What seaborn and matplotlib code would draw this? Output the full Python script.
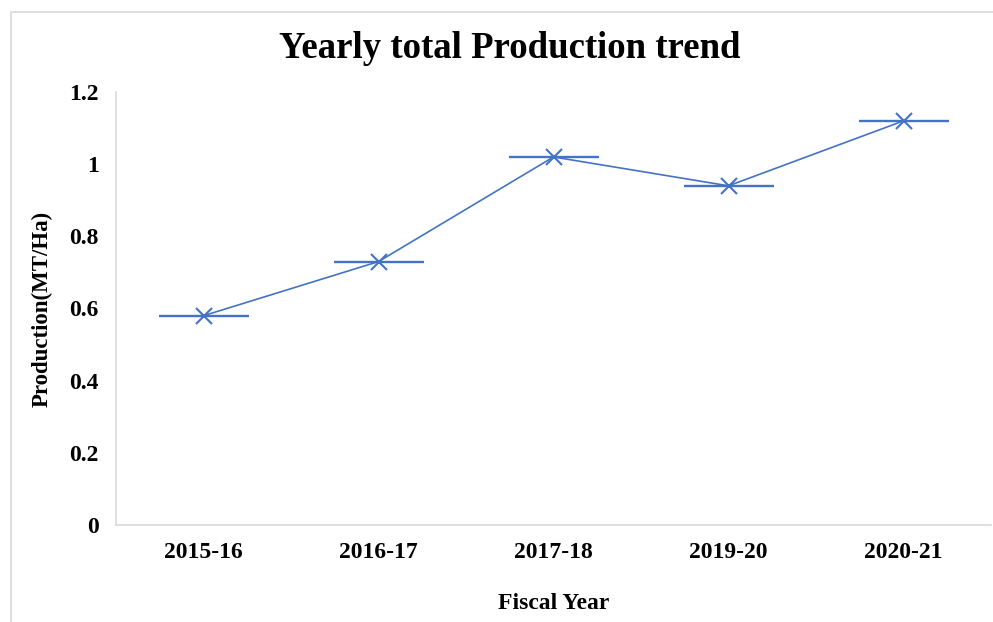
import matplotlib
matplotlib.use("Agg")
import matplotlib.pyplot as plt
import seaborn as sns
import pandas as pd
from matplotlib.patches import Rectangle

fiscal_years = ["2015-16", "2016-17", "2017-18", "2019-20", "2020-21"]
production = [0.58, 0.73, 1.02, 0.94, 1.12]
y_ticks = [0, 0.2, 0.4, 0.6, 0.8, 1.0, 1.2]
y_tick_labels = ["0", "0.2", "0.4", "0.6", "0.8", "1", "1.2"]

df = pd.DataFrame({"Fiscal Year": fiscal_years, "Production": production})

sns.set_theme(style="white")
plt.rcParams["font.family"] = ["Liberation Serif", "DejaVu Serif"]
plt.rcParams["font.weight"] = "bold"
plt.rcParams["text.color"] = "black"
plt.rcParams["axes.labelcolor"] = "black"
plt.rcParams["xtick.color"] = "black"
plt.rcParams["ytick.color"] = "black"

blue = "#4472C4"
grey = "#d9d9d9"

fig = plt.figure(figsize=(9.93, 6.22), dpi=100)
ax = fig.add_axes([116 / 993, 1 - 525 / 622, (991 - 116) / 993, (525 - 92) / 622])

# outer chart frame
fig.patches.append(Rectangle((11 / 993, -0.1), 1.2, 1 - 12 / 622 + 0.1,
                             transform=fig.transFigure, fill=False,
                             edgecolor=grey, linewidth=1.2, zorder=0))

sns.lineplot(data=df, x="Fiscal Year", y="Production", ax=ax, color=blue,
             linewidth=1.2, marker="x", markersize=11, markeredgewidth=1.5,
             markeredgecolor=blue, sort=False)
sns.scatterplot(data=df, x="Fiscal Year", y="Production", ax=ax, color=blue,
                marker="_", s=65 ** 2, linewidth=1.7, zorder=3)

ax.set_xlim(-0.5, len(fiscal_years) - 0.5)
ax.set_ylim(0, 1.2)
ax.set_yticks(y_ticks)
ax.set_yticklabels(y_tick_labels)
ax.tick_params(axis="y", length=0, pad=12.5, labelsize=17)
ax.tick_params(axis="x", length=0, pad=12, labelsize=17)
for lbl in ax.get_xticklabels() + ax.get_yticklabels():
    lbl.set_fontweight("bold")

for side in ["top", "right"]:
    ax.spines[side].set_visible(False)
for side in ["left", "bottom"]:
    ax.spines[side].set_color(grey)
    ax.spines[side].set_linewidth(1.2)

ax.set_xlabel("Fiscal Year", fontsize=17, fontweight="bold", labelpad=22)
ax.set_ylabel("Production(MT/Ha)", fontsize=16.5, fontweight="bold", labelpad=12)
fig.text(510 / 993, 1 - 49 / 622, "Yearly total Production trend",
         ha="center", va="center", fontsize=26.5, fontweight="bold")

fig.savefig("out.png", dpi=100, facecolor="white")
